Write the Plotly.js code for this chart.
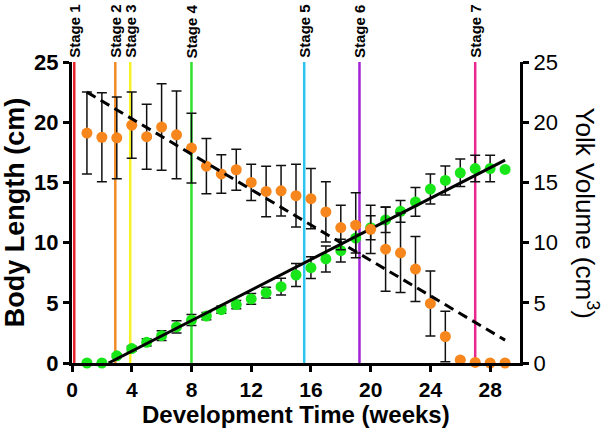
<!DOCTYPE html>
<html>
<head>
<meta charset="utf-8">
<script src="https://cdn.plot.ly/plotly-3.0.1.min.js"></script>
<style>html,body{margin:0;padding:0;background:#fff}#chart{width:607px;height:439px}</style>
</head>
<body>
<div id="chart"></div>
<script>
// ---- data ----
const weeks = [1,2,3,4,5,6,7,8,9,10,11,12,13,14,15,16,17,18,19,20,21,22,23,24,25,26,27,28,29];
const bodyLength = [0,0,0.6,1.2,1.72,2.27,3.0,3.57,3.9,4.43,4.85,5.32,5.84,6.34,7.31,7.92,8.64,9.33,10.38,11.24,11.88,12.6,13.38,14.45,15.16,15.8,16.15,16.15,16.08];
const bodyLengthErr = [0,0,0.15,0.2,0.3,0.4,0.5,0.45,0.3,0.3,0.35,0.45,0.45,0.7,0.95,0.9,1.08,0.95,1.25,1.0,1.05,0.9,1.2,1.25,1.2,1.15,1.1,1.1,0];
const yolkVolume = [19.1,18.75,18.7,19.75,18.8,19.6,18.95,17.85,16.35,15.7,16.05,15.0,14.25,14.3,13.9,13.65,12.55,11.25,11.45,11.1,9.45,9.15,7.8,4.95,2.2,0.25,0.05,0,0];
const yolkVolumeErr = [3.4,3.7,3.4,2.75,2.7,3.6,3.65,2.9,2.3,1.6,1.7,1.5,2.1,2.1,2.6,2.5,2.5,1.85,2.7,2.0,3.5,3.3,2.7,2.7,2.1,0,0,0,0];
const growthFitX = [2.45, 29];
const growthFitY = [0, 16.85];
const yolkFitX = [1, 29];
const yolkFitY = [22.5, 1.9];
const stageNames = ["Stage 1","Stage 2","Stage 3","Stage 4","Stage 5","Stage 6","Stage 7"];
const stageWeeks = [0.15, 2.9, 3.9, 8.0, 15.55, 19.25, 27.0];
const xTicks = [0,4,8,12,16,20,24,28];
const yTicks = [0,5,10,15,20,25];

// ---- styles ----
const stageColors = ["#e8232b","#f28a25","#f7f227","#2fe02f","#2ec4f0","#a323d6","#e8288e"];
const FONT = "Liberation Sans, Arial, sans-serif";
const orange = "#f7861c", green = "#19e619";

const traces = [
  {x: weeks, y: yolkVolume, yaxis: 'y2', type: 'scatter', mode: 'markers', cliponaxis: false,
   marker: {color: orange, size: 11},
   error_y: {type: 'data', array: yolkVolumeErr, color: '#111', thickness: 1.5, width: 5}},
  {x: weeks, y: bodyLength, type: 'scatter', mode: 'markers', cliponaxis: false,
   marker: {color: green, size: 11},
   error_y: {type: 'data', array: bodyLengthErr, color: '#111', thickness: 1.5, width: 5}},
  {x: yolkFitX, y: yolkFitY, yaxis: 'y2', type: 'scatter', mode: 'lines',
   line: {color: '#000', width: 3, dash: '10px,6px'}},
  {x: growthFitX, y: growthFitY, type: 'scatter', mode: 'lines',
   line: {color: '#000', width: 3}}
];

const shapes = stageWeeks.map((w, i) => ({
  type: 'line', xref: 'x', yref: 'paper', x0: w, x1: w, y0: 0, y1: 1,
  line: {color: stageColors[i], width: 2.5}, layer: 'below'
}));

const annotations = stageWeeks.map((w, i) => ({
  x: w, y: 1, xref: 'x', yref: 'paper', text: stageNames[i], showarrow: false,
  textangle: -90, xanchor: 'center', yanchor: 'bottom', yshift: 2,
  font: {family: FONT, size: 15, color: '#000', weight: 700}
}));
annotations.push({
  x: 1, y: 0.5, xref: 'paper', yref: 'paper', text: 'Yolk Volume (cm<sup>3</sup>)', showarrow: false,
  textangle: 90, xanchor: 'center', yanchor: 'middle', xshift: 66,
  font: {family: FONT, size: 26, color: '#000'}
});
annotations.push({
  x: 0.5, y: 0, xref: 'paper', yref: 'paper', text: 'Development Time (weeks)', showarrow: false,
  xanchor: 'center', yanchor: 'middle', yshift: -51,
  font: {family: FONT, size: 24, color: '#000', weight: 700}
});

const axisCommon = {
  showgrid: false, zeroline: false, showline: true, linecolor: '#000', linewidth: 3,
  ticks: 'outside', ticklen: 6, tickwidth: 3, tickcolor: '#000'
};

const layout = {
  width: 607, height: 439,
  margin: {l: 72, r: 87, t: 62, b: 76},
  paper_bgcolor: '#fff', plot_bgcolor: '#fff',
  showlegend: false,
  xaxis: Object.assign({}, axisCommon, {
    range: [0, 30], tickvals: xTicks, ticktext: xTicks.map(String),
    tickfont: {family: FONT, size: 21, color: '#000', weight: 700}
  }),
  yaxis: Object.assign({}, axisCommon, {
    range: [0, 25], tickvals: yTicks, ticktext: yTicks.map(String),
    tickfont: {family: FONT, size: 22, color: '#000', weight: 700},
    title: {text: 'Body Length (cm)', standoff: 4,
            font: {family: FONT, size: 27, color: '#000', weight: 700}}
  }),
  yaxis2: Object.assign({}, axisCommon, {
    range: [0, 25], overlaying: 'y', side: 'right', tickvals: yTicks, ticktext: yTicks.map(String),
    tickfont: {family: FONT, size: 22, color: '#000'}
  }),
  shapes: shapes,
  annotations: annotations
};

Plotly.newPlot('chart', traces, layout, {displayModeBar: false, staticPlot: true});
</script>
</body>
</html>
